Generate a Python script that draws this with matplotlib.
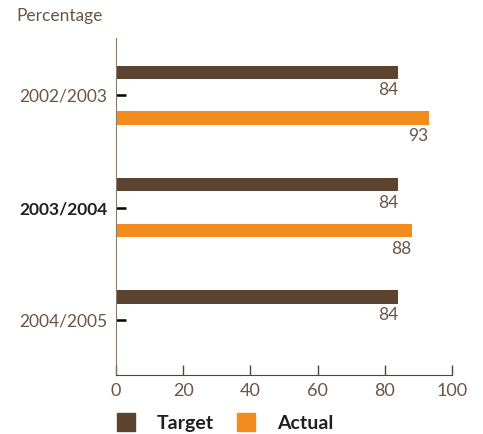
import numpy as np
import matplotlib.pyplot as plt
from matplotlib.patches import Patch

years = ["2002/2003", "2003/2004", "2004/2005"]
target = [84, 84, 84]
actual = [93, 88, None]

brown = "#5c4330"
orange = "#f28c1e"
txt = "#6b5544"

plt.rcParams['font.family'] = ['Lato', 'DejaVu Sans']

fig = plt.figure(figsize=(4.83, 4.34), dpi=100)
ax = fig.add_axes([0.240, 0.136, 0.696, 0.776])

pos = np.arange(len(years))
off = 0.204
h = 0.118

for i, (t, a) in enumerate(zip(target, actual)):
    ax.barh(pos[i] - off, t, height=h, color=brown)
    ax.text(t, pos[i] - off + h / 2 + 0.03, str(t), ha="right", va="top",
            fontsize=12.5, color=txt)
    if a is not None:
        ax.barh(pos[i] + off, a, height=h, color=orange)
        ax.text(a, pos[i] + off + h / 2 + 0.03, str(a), ha="right", va="top",
                fontsize=12.5, color=txt)

ax.set_xlim(0, 100)
ax.set_ylim(2.489, -0.507)
ax.set_xticks([0, 20, 40, 60, 80, 100])
ax.set_yticks(pos)
ax.set_yticklabels(years, fontsize=12.5, color=txt)
ax.get_yticklabels()[1].set_fontweight("bold")
ax.get_yticklabels()[1].set_color("#231f20")
ax.tick_params(axis="y", direction="in", length=7, width=1.8, color="black", pad=6)
ax.tick_params(axis="x", direction="in", length=7, width=1, color=brown,
               labelsize=13, labelcolor=txt, pad=6)

for s in ["top", "right"]:
    ax.spines[s].set_visible(False)
ax.spines["left"].set_color("#8a7a6c")
ax.spines["bottom"].set_color(brown)

fig.text(0.033, 0.945, "Percentage", fontsize=12.5, color=txt, va="bottom")

handles = [Patch(color=brown, label="Target"), Patch(color=orange, label="Actual")]
leg = fig.legend(handles=handles, ncol=2, loc="lower left",
                 bbox_to_anchor=(0.205, -0.035), frameon=False,
                 handlelength=0.95, handleheight=1.0, handletextpad=1.1,
                 columnspacing=1.2, prop={"weight": "bold", "size": 14})
for t in leg.get_texts():
    t.set_color("#231f20")

fig.savefig("out.png", dpi=100)
